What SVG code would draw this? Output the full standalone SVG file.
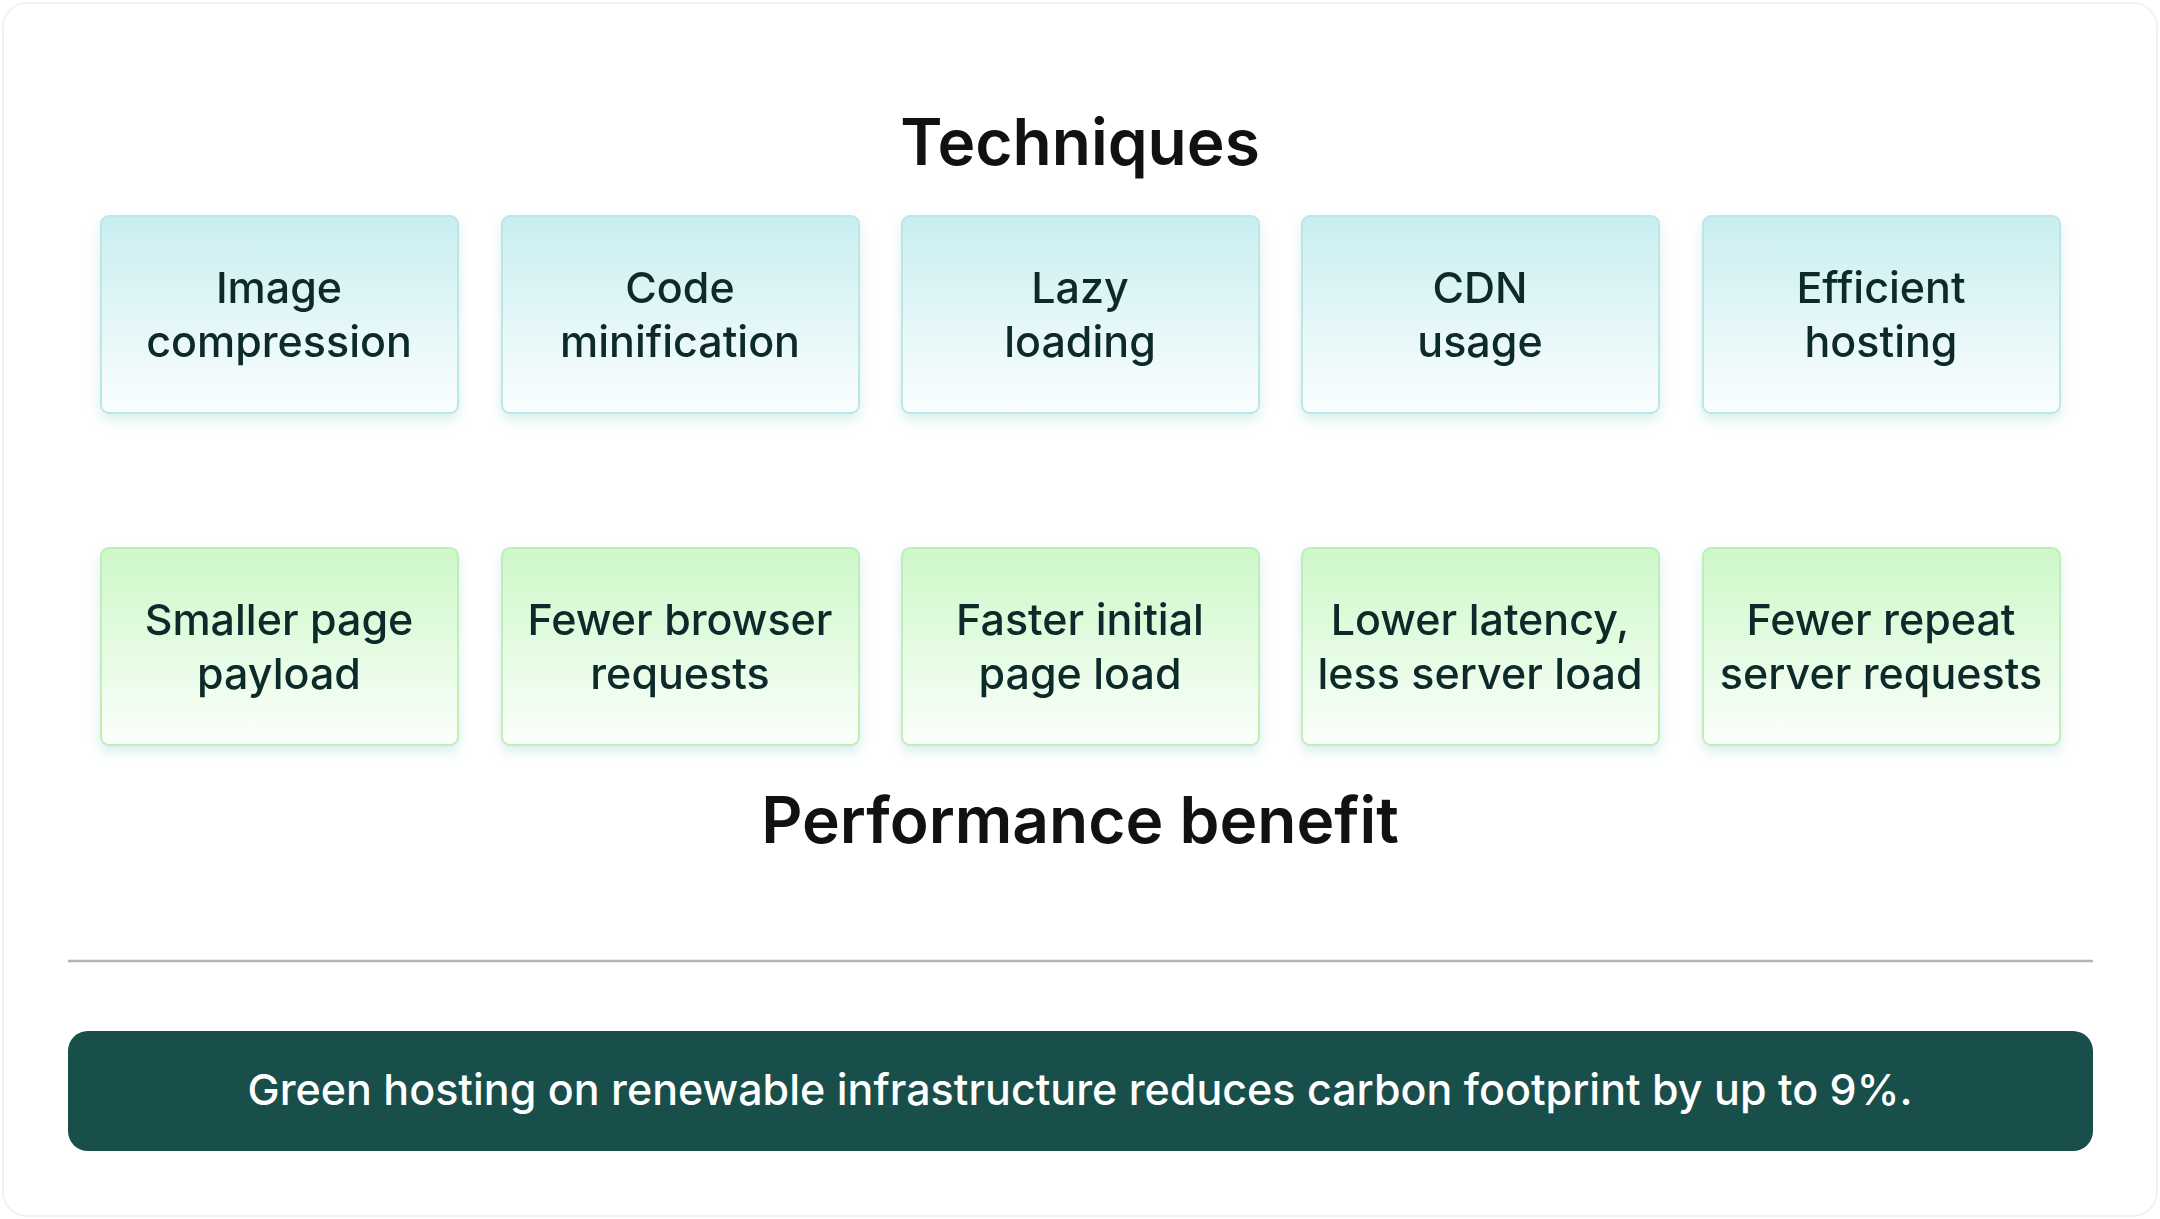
<svg xmlns="http://www.w3.org/2000/svg" width="2160" height="1219" viewBox="0 0 2160 1219">
<style>
.t{font-family:Inter,"Liberation Sans",sans-serif;fill:#0f2a2a;text-anchor:middle}
.bx{font-size:43px;font-weight:500}
.h{font-size:64px;font-weight:600;fill:#111}
</style>
<defs>
<linearGradient id="gb" x1="0" y1="0" x2="0" y2="1"><stop offset="0" stop-color="#c9eef0"/><stop offset="1" stop-color="#fbfefe"/></linearGradient>
<linearGradient id="gg" x1="0" y1="0" x2="0" y2="1"><stop offset="0" stop-color="#cdf8c8"/><stop offset="1" stop-color="#fbfffb"/></linearGradient>
<filter id="sh" x="-10%" y="-10%" width="120%" height="130%"><feDropShadow dx="0" dy="6" stdDeviation="6" flood-color="#6bbfb5" flood-opacity="0.25"/></filter>
</defs>
<rect x="0" y="0" width="2160" height="1219" fill="#fff"/>
<rect x="3" y="3" width="2154" height="1213" rx="24" fill="#fff" stroke="#eef3f0" stroke-width="2"/>
<text class="t h" x="1080" y="165">Techniques</text>
<g id="top">
<g id="n1" filter="url(#sh)"><rect x="101" y="216" width="357" height="197" rx="8" fill="url(#gb)" stroke="#bfe6e6" stroke-width="2"/><text class="t bx" x="279" y="303">Image</text><text class="t bx" x="279" y="357">compression</text></g>
<g id="n2" filter="url(#sh)"><rect x="502" y="216" width="357" height="197" rx="8" fill="url(#gb)" stroke="#bfe6e6" stroke-width="2"/><text class="t bx" x="680" y="303">Code</text><text class="t bx" x="680" y="357">minification</text></g>
<g id="n3" filter="url(#sh)"><rect x="902" y="216" width="357" height="197" rx="8" fill="url(#gb)" stroke="#bfe6e6" stroke-width="2"/><text class="t bx" x="1080" y="303">Lazy</text><text class="t bx" x="1080" y="357">loading</text></g>
<g id="n4" filter="url(#sh)"><rect x="1302" y="216" width="357" height="197" rx="8" fill="url(#gb)" stroke="#bfe6e6" stroke-width="2"/><text class="t bx" x="1480" y="303">CDN</text><text class="t bx" x="1480" y="357">usage</text></g>
<g id="n5" filter="url(#sh)"><rect x="1703" y="216" width="357" height="197" rx="8" fill="url(#gb)" stroke="#bfe6e6" stroke-width="2"/><text class="t bx" x="1881" y="303">Efficient</text><text class="t bx" x="1881" y="357">hosting</text></g>
</g>
<g id="bottom">
<g id="b1" filter="url(#sh)"><rect x="101" y="548" width="357" height="197" rx="8" fill="url(#gg)" stroke="#bfeebb" stroke-width="2"/><text class="t bx" x="279" y="635">Smaller page</text><text class="t bx" x="279" y="689">payload</text></g>
<g id="b2" filter="url(#sh)"><rect x="502" y="548" width="357" height="197" rx="8" fill="url(#gg)" stroke="#bfeebb" stroke-width="2"/><text class="t bx" x="680" y="635">Fewer browser</text><text class="t bx" x="680" y="689">requests</text></g>
<g id="b3" filter="url(#sh)"><rect x="902" y="548" width="357" height="197" rx="8" fill="url(#gg)" stroke="#bfeebb" stroke-width="2"/><text class="t bx" x="1080" y="635">Faster initial</text><text class="t bx" x="1080" y="689">page load</text></g>
<g id="b4" filter="url(#sh)"><rect x="1302" y="548" width="357" height="197" rx="8" fill="url(#gg)" stroke="#bfeebb" stroke-width="2"/><text class="t bx" x="1480" y="635">Lower latency,</text><text class="t bx" x="1480" y="689">less server load</text></g>
<g id="b5" filter="url(#sh)"><rect x="1703" y="548" width="357" height="197" rx="8" fill="url(#gg)" stroke="#bfeebb" stroke-width="2"/><text class="t bx" x="1881" y="635">Fewer repeat</text><text class="t bx" x="1881" y="689">server requests</text></g>
</g>
<text class="t h" x="1080" y="843">Performance benefit</text>
<g id="connectors"><line x1="68" y1="961" x2="2093" y2="961" stroke="#b4b4b4" stroke-width="2.5"/></g>
<g id="banner"><rect x="68" y="1031" width="2025" height="120" rx="20" fill="#184f4b"/><text class="t" x="1080" y="1105" font-size="43" font-weight="500" fill="#fff" style="fill:#fff">Green hosting on renewable infrastructure reduces carbon footprint by up to 9%.</text></g>
</svg>
